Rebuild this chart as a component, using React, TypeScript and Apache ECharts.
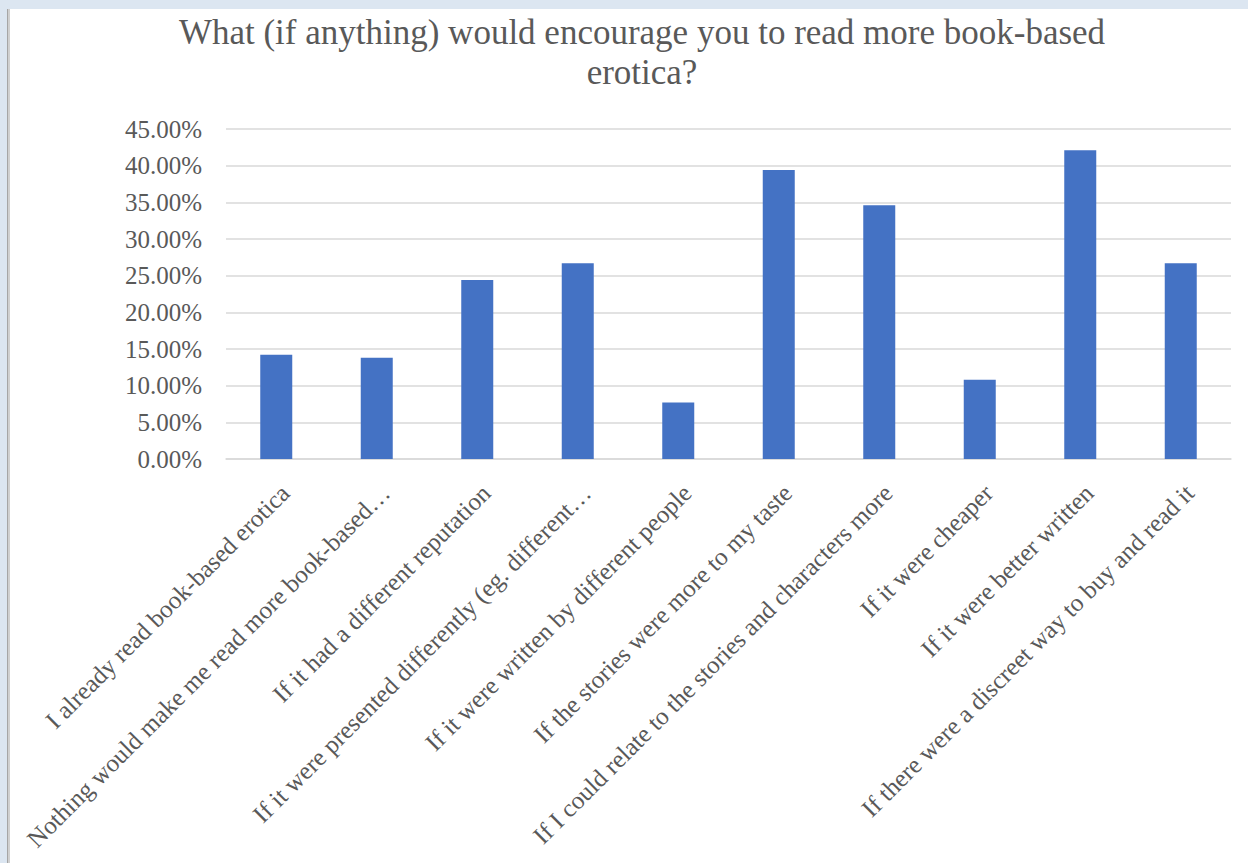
import React, { useEffect, useRef } from "react";
import * as echarts from "echarts";

const titleText = "What (if anything) would encourage you to read more book-based\nerotica?";
const categories = [
  "I already read book-based erotica",
  "Nothing would make me read more book-based…",
  "If it had a different reputation",
  "If it were presented differently (eg. different…",
  "If it were written by different people",
  "If the stories were more to my taste",
  "If I could relate to the stories and characters more",
  "If it were cheaper",
  "If it were better written",
  "If there were a discreet way to buy and read it",
];
const values = [14.2, 13.8, 24.4, 26.7, 7.7, 39.4, 34.6, 10.8, 42.1, 26.7];
const yMin = 0;
const yMax = 45;
const yInterval = 5;

const FONT = "'Liberation Serif', 'Times New Roman', serif";
const TEXT = "#595959";

export default function App() {
  const ref = useRef<HTMLDivElement>(null);
  useEffect(() => {
    if (!ref.current) return;
    const chart = echarts.init(ref.current, null, { renderer: "svg" });
    chart.setOption({
      animation: false,
      title: {
        text: titleText,
        left: 637,
        textAlign: "center",
        top: 7,
        textStyle: {
          fontFamily: FONT,
          fontSize: 35,
          fontWeight: "normal",
          color: TEXT,
          lineHeight: 40,
        },
      },
      grid: {
        left: 226,
        right: 17,
        top: 129,
        bottom: 404,
        containLabel: false,
        outerBoundsMode: "none",
      },
      xAxis: {
        type: "category",
        data: categories,
        axisLine: { show: true, lineStyle: { color: "#d9d9d9", width: 1.5 } },
        axisTick: { show: false },
        axisLabel: {
          interval: 0,
          rotate: 45,
          margin: 21,
          verticalAlign: "top",
          fontFamily: FONT,
          fontSize: 25,
          color: TEXT,
          hideOverlap: false,
        },
      },
      yAxis: {
        type: "value",
        min: yMin,
        max: yMax,
        interval: yInterval,
        axisLine: { show: false },
        axisTick: { show: false },
        splitLine: { lineStyle: { color: "#d9d9d9", width: 1.5 } },
        axisLabel: {
          margin: 24,
          fontFamily: FONT,
          fontSize: 25,
          color: TEXT,
          formatter: (v: number) => v.toFixed(2) + "%",
        },
      },
      series: [
        {
          type: "bar",
          data: values,
          barWidth: 32,
          itemStyle: { color: "#4472C4" },
        },
      ],
    });
    return () => chart.dispose();
  }, []);
  return (
    <div style={{ position: "fixed", left: 0, top: 0, width: 1248, height: 863, background: "#dce6f1", overflow: "hidden" }}>
      <div style={{ position: "absolute", left: 10, top: 9, right: 0, bottom: 0, background: "#ffffff" }} />
      <div style={{ position: "absolute", left: 7, top: 9, width: 1, bottom: 0, background: "#a6a6a6" }} />
      <div style={{ position: "absolute", left: 8, top: 9, width: 2, bottom: 0, background: "#d0d0d0" }} />
      <div ref={ref} style={{ position: "absolute", left: 0, top: 0, width: 1248, height: 863 }} />
    </div>
  );
}
